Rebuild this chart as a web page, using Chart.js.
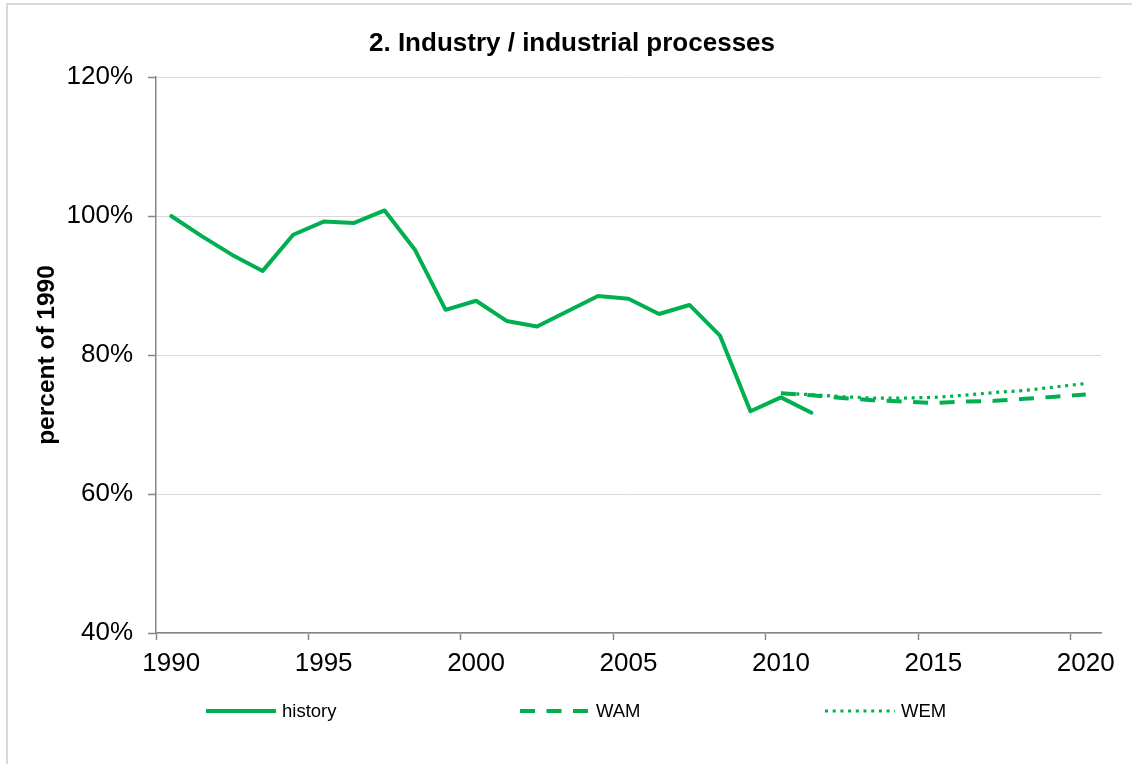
<!DOCTYPE html>
<html>
<head>
<meta charset="utf-8">
<script src="https://cdn.jsdelivr.net/npm/chart.js@4.4.1/dist/chart.umd.min.js"></script>
<style>
  body { margin: 0; background: #fff; }
  #wrap { position: relative; width: 1132px; height: 764px; overflow: hidden; background: #fff; }
  #frame { position: absolute; left: 6px; top: 3px; width: 1150px; height: 800px;
           border-top: 2px solid #d9d9d9; border-left: 2px solid #d9d9d9; }
  #chart { position: absolute; left: 0; top: 0; }
  .leg { position: absolute; top: 699px; height: 24px; display: flex; align-items: center;
         font: 18.5px "Liberation Sans", Arial, sans-serif; color: #000; }
  .leg svg { margin-right: 6px; }
</style>
</head>
<body>
<div id="wrap">
  <div id="frame"></div>
  <canvas id="chart" width="1132" height="764"></canvas>
  <div id="legend"></div>
</div>
<script>
// years on the category axis
const years = [1990, 1991, 1992, 1993, 1994, 1995, 1996, 1997, 1998, 1999,
               2000, 2001, 2002, 2003, 2004, 2005, 2006, 2007, 2008, 2009,
               2010, 2011, 2012, 2013, 2014, 2015, 2016, 2017, 2018, 2019, 2020];

// history, 1990-2011 (percent of 1990)
const historyValues = [100.0, 97.1, 94.4, 92.1, 97.3, 99.2, 99.0, 100.8, 95.1, 86.5,
                       87.8, 84.9, 84.1, 86.3, 88.5, 88.1, 85.9, 87.2, 82.8, 71.9,
                       73.9, 71.7];

// projections, 2010-2020
const projYears = [2010, 2011, 2012, 2013, 2014, 2015, 2016, 2017, 2018, 2019, 2020];
const wamValues = [74.5, 74.2, 73.8, 73.5, 73.3, 73.1, 73.3, 73.4, 73.7, 74.0, 74.3];
const wemValues = [74.5, 74.3, 74.0, 73.8, 73.8, 73.9, 74.2, 74.6, 74.9, 75.4, 75.9];

const yTicks = [40, 60, 80, 100, 120];

const green = '#00B050';
const font = "'Liberation Sans', Arial, sans-serif";
Chart.defaults.font.family = font;
Chart.defaults.color = '#000';

function toSeries(yrs, vals) {
  return years.map(y => {
    const i = yrs.indexOf(y);
    return i < 0 ? null : vals[i];
  });
}

const datasets = [
  { label: 'history', data: historyValues, borderColor: green, borderWidth: 4,
    borderDash: [], borderCapStyle: 'round', borderJoinStyle: 'round' },
  { label: 'WAM', data: toSeries(projYears, wamValues), borderColor: green, borderWidth: 4,
    borderDash: [15, 11.5], borderCapStyle: 'butt', borderJoinStyle: 'round' },
  { label: 'WEM', data: toSeries(projYears, wemValues), borderColor: green, borderWidth: 3.2,
    borderDash: [3, 4.7], borderCapStyle: 'butt', borderJoinStyle: 'round' }
];
datasets.forEach(d => { d.pointRadius = 0; d.tension = 0; d.fill = false; d.spanGaps = false; });

new Chart(document.getElementById('chart'), {
  type: 'line',
  data: { labels: years.map(String), datasets: datasets },
  options: {
    responsive: false,
    animation: false,
    layout: { padding: { left: 43, right: 31, top: 0, bottom: 71 } },
    plugins: {
      legend: { display: false },
      tooltip: { enabled: false },
      title: {
        display: true,
        text: '2. Industry / industrial processes',
        color: '#000',
        font: { size: 26, weight: 'bold' },
        padding: { top: 28, bottom: 17.8 }
      }
    },
    scales: {
      x: {
        type: 'category',
        offset: true,
        grid: {
          offset: true,
          drawOnChartArea: false,
          tickLength: 7,
          tickWidth: 1.5,
          tickColor: ctx => (years[ctx.index] % 5 === 0 ? '#868686' : 'rgba(0,0,0,0)')
        },
        border: { color: '#868686', width: 1.5 },
        ticks: {
          autoSkip: false,
          maxRotation: 0,
          minRotation: 0,
          padding: 8,
          color: '#000',
          font: { size: 26 },
          callback: (v, i) => (years[i] % 5 === 0 ? String(years[i]) : '')
        },
        afterFit: s => { s.height = 60; }
      },
      y: {
        min: 40,
        max: 120,
        afterBuildTicks: s => { s.ticks = yTicks.map(v => ({ value: v })); },
        ticks: {
          padding: 15,
          color: '#000',
          font: { size: 26 },
          callback: v => v + '%'
        },
        grid: { color: '#d9d9d9', lineWidth: 1, tickColor: '#868686', tickLength: 8, tickWidth: 1.5 },
        border: { color: '#868686', width: 1.5 },
        title: {
          display: true,
          text: 'percent of 1990',
          color: '#000',
          font: { size: 24.5, weight: 'bold' },
          padding: { top: -10.6, bottom: 0 }
        },
        afterFit: s => { s.width = 113; }
      }
    }
  }
});

// html legend, one entry per dataset
const legendLeft = [206, 520, 825];
const legendBox = document.getElementById('legend');
datasets.forEach((d, i) => {
  const item = document.createElement('div');
  item.className = 'leg';
  item.style.left = legendLeft[i] + 'px';
  const dash = d.borderDash.length ? ` stroke-dasharray="${d.borderDash.join(' ')}"` : '';
  item.innerHTML = `<svg width="70" height="12"><line x1="0" y1="6" x2="70" y2="6" stroke="${d.borderColor}" stroke-width="${d.borderWidth}"${dash}/></svg><span>${d.label}</span>`;
  legendBox.appendChild(item);
});
</script>
</body>
</html>
